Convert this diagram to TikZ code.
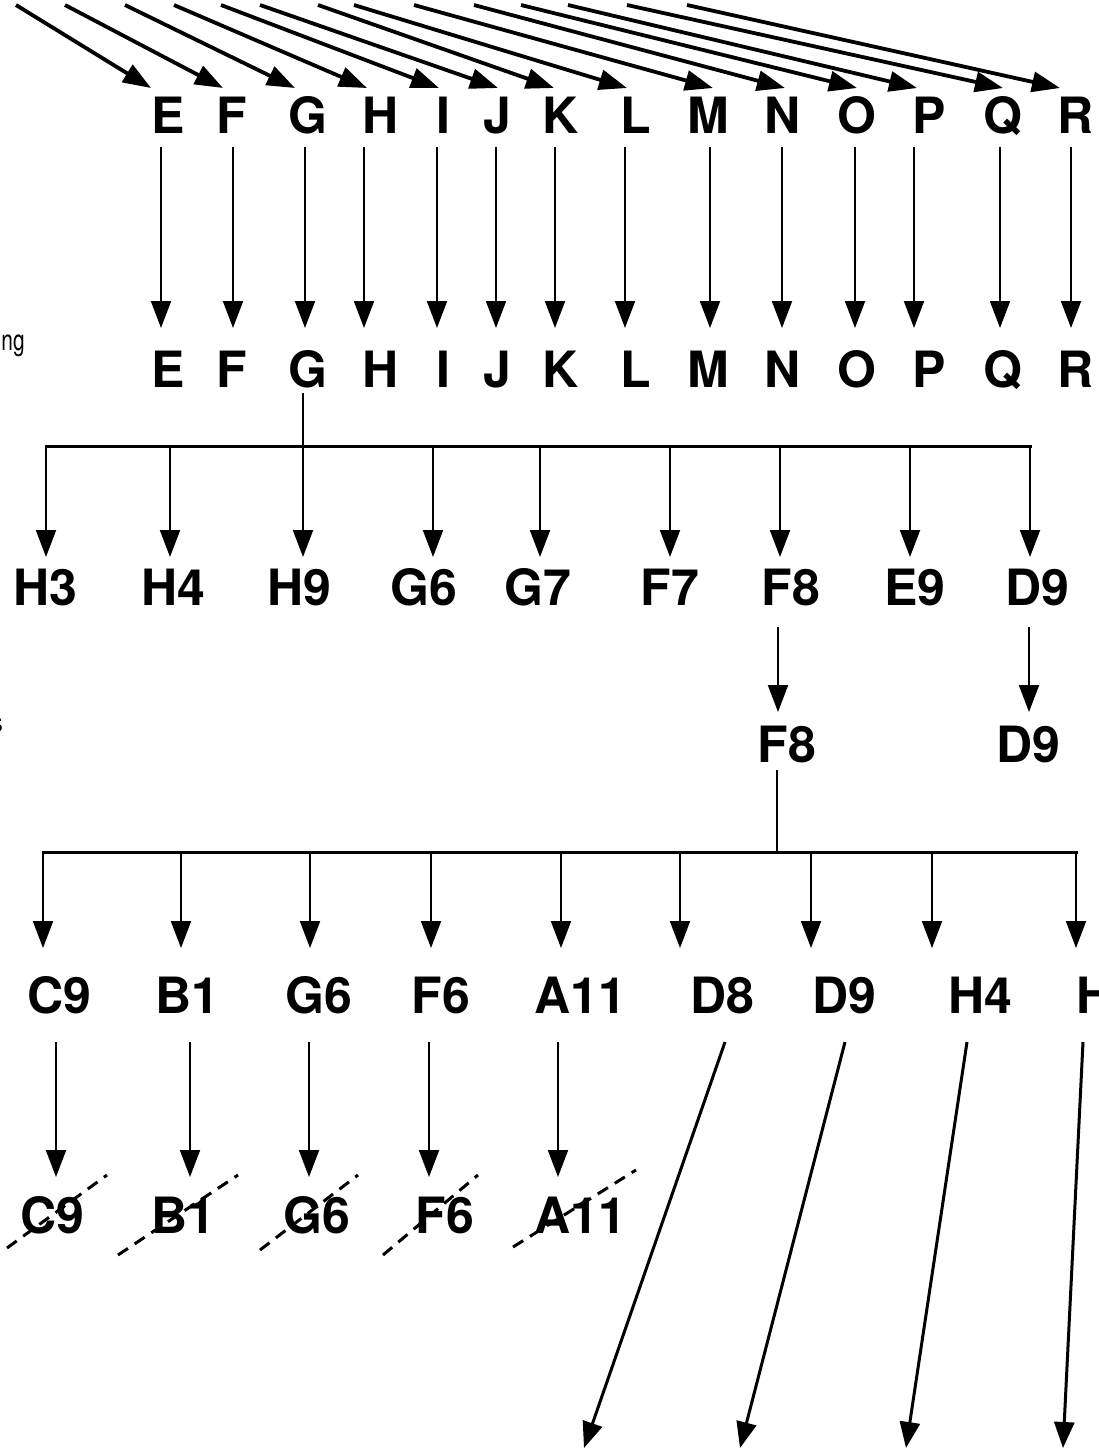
\documentclass[tikz,border=0pt]{standalone}
\usepackage{fontspec}
\setmainfont{TeX Gyre Heros}
\usetikzlibrary{arrows.meta}
\tikzset{
  lab/.style={font=\bfseries\fontsize{50}{50}\selectfont, inner sep=0pt, outer sep=0pt, text height=36pt, text depth=0pt, anchor=base},
  side/.style={font=\fontsize{29}{29}\selectfont, inner sep=0pt, anchor=base},
  varrow/.style={line width=2pt, -{Triangle[length=27pt,width=20pt]}},
  darrow/.style={line width=3.8pt, -{Triangle[length=28pt,width=20pt]}},
  barrow/.style={line width=3pt, -{Triangle[length=26pt,width=20pt]}},
  busline/.style={line width=3pt, line cap=rect},
  stemline/.style={line width=2pt},
  strike/.style={line width=3pt, dash pattern=on 12pt off 8pt},
}
\begin{document}
\begin{tikzpicture}[x=1pt,y=-1pt]
\clip (0,0) rectangle (1099,1451);
\fill[white] (0,0) rectangle (1099,1451);

% side text fragments
\node[side] (sideNg) at (13,350) {\scalebox{0.72}[1]{ng}};
\node[side] (sideS) at (-4,732) {s};

% rows 1 and 2 with the incoming diagonal arrows
\foreach \n/\lx/\ax/\sx/\tdx in {E/168/161/16/-17, F/232/233/65/-9, G/308/305/125/-13, H/381/364/174/-14, I/443/437/221/-4, J/497/496/260/1, K/561/555/318/-7, L/636/625/354/-9, M/708/710/414/5, N/783/782/474/2, O/857/855/521/0, P/929/914/568/-12, Q/1003/1000/627/0, R/1076/1071/687/-16}{
  \node[lab] (\n1) at (\lx,133) {\n};
  \node[lab] (\n2) at (\lx,387) {\n};
  \coordinate (c\n) at (\ax,0);
  \coordinate (s\n) at (\sx,5);
  \draw[darrow] (s\n) -- ([shift={(\tdx,-9)}]\n1.north);
  \draw[varrow, shorten <=14pt, shorten >=23pt] (\n1.south -| c\n) -- (\n2.north -| c\n);
}

% tree 1 from G
\coordinate (j1) at (303,446);
\coordinate (b1L) at (46,446);
\coordinate (b1R) at (1030,446);
\draw[stemline, shorten <=6pt] (G2.south -| j1) -- (j1);
\draw[busline] (b1L) -- (b1R);
\foreach \nm/\tx/\lx/\dx in {H3a/H3/45/46, H4a/H4/173/170, H9a/H9/299/303, G6a/G6/424/433, G7a/G7/538/540, F7a/F7/670/670, F8a/F8/791/780, E9a/E9/915/910, D9a/D9/1037/1030}{
  \node[lab] (\nm) at (\lx,605) {\tx};
  \coordinate (d\nm) at (\dx,446);
  \draw[varrow, shorten >=12pt] (d\nm) -- (d\nm |- \nm.north);
}

% row 4
\node[lab] (F8b) at (787,762) {F8};
\node[lab] (D9b) at (1028,762) {D9};
\coordinate (cF8) at (778,0);
\coordinate (cD9) at (1029,0);
\draw[varrow, shorten <=22pt, shorten >=14pt] (F8a.south -| cF8) -- (F8b.north -| cF8);
\draw[varrow, shorten <=22pt, shorten >=14pt] (D9a.south -| cD9) -- (D9b.north -| cD9);

% tree 2 from F8
\coordinate (j2) at (777,852);
\coordinate (b2L) at (43,852);
\coordinate (b2R) at (1076,852);
\draw[stemline, shorten <=8pt] (F8b.south -| j2) -- (j2);
\draw[busline] (b2L) -- (b2R);
\foreach \nm/\tx/\lx/\dx in {C9c/C9/59/43, B1c/B1/187/181, G6c/G6/319/310, F6c/F6/441/431, A11c/A11/580/561, D8c/D8/722/680, D9c/D9/844/811, H4c/H4/980/932, Hc/H/1095/1076}{
  \node[lab] (\nm) at (\lx,1013) {\tx};
  \coordinate (d\nm) at (\dx,852);
  \draw[varrow, shorten >=29pt] (d\nm) -- (d\nm |- \nm.north);
}

% row 6 (struck out)
\foreach \up/\nm/\tx/\lx/\ax/\ux/\uy/\vx/\vy in {C9c/C9d/C9/52/56/-45/15/55/-58, B1c/B1d/B1/183/190/-65/22/55/-58, G6c/G6d/G6/317/309/-57/17/41/-58, F6c/F6d/F6/445/429/-62/22/33/-58, A11c/A11d/A11/580/558/-67/14/56/-63}{
  \node[lab] (\nm) at (\lx,1233) {\tx};
  \coordinate (a\nm) at (\ax,0);
  \draw[varrow, shorten <=29pt, shorten >=20pt] (\up.south -| a\nm) -- (\nm.north -| a\nm);
  \draw[strike] ([shift={(\ux,\uy)}]\nm.base) -- ([shift={(\vx,\vy)}]\nm.base);
}

% outgoing diagonal arrows at the bottom
\coordinate (t1) at (584,1448);
\coordinate (t2) at (740,1448);
\coordinate (t3) at (906,1448);
\coordinate (t4) at (1063,1448);
\draw[barrow] ([shift={(3,29)}]D8c.base) -- (t1);
\draw[barrow] ([shift={(1,29)}]D9c.base) -- (t2);
\draw[barrow] ([shift={(-13,29)}]H4c.base) -- (t3);
\draw[barrow] ([shift={(-12,29)}]Hc.base) -- (t4);
\end{tikzpicture}
\end{document}
